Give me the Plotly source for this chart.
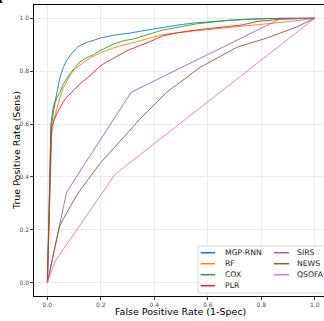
import plotly.graph_objects as go

# ---- data ----
names = ["MGP-RNN", "RF", "COX", "PLR", "SIRS", "NEWS", "QSOFA"]
colors = ["#1f77b4", "#ff7f0e", "#2ca02c", "#d62728", "#9467bd", "#8c564b", "#e377c2"]

mgp_x = [0, 0.004, 0.008, 0.013, 0.022, 0.03, 0.038, 0.047, 0.06, 0.072, 0.085, 0.1, 0.112, 0.122, 0.135,
         0.15, 0.172, 0.2, 0.25, 0.31, 0.37, 0.43, 0.5, 0.55, 0.62, 0.68, 0.75, 0.8, 0.88, 1.0]
mgp_y = [0, 0.22, 0.42, 0.6, 0.664, 0.69, 0.73, 0.775, 0.815, 0.84, 0.86, 0.877, 0.89, 0.897, 0.903,
         0.91, 0.916, 0.926, 0.936, 0.944, 0.955, 0.966, 0.976, 0.982, 0.988, 0.992, 0.996, 0.998, 1.0, 1.0]

rf_x = [0, 0.005, 0.01, 0.016, 0.025, 0.035, 0.047, 0.06, 0.085, 0.1, 0.122, 0.16, 0.2, 0.234, 0.27,
        0.31, 0.347, 0.43, 0.55, 0.68, 0.8, 0.93, 1.0]
rf_y = [0, 0.2, 0.4, 0.56, 0.62, 0.66, 0.70, 0.738, 0.785, 0.805, 0.823, 0.85, 0.87, 0.883, 0.895,
        0.905, 0.915, 0.938, 0.952, 0.965, 0.977, 0.99, 1.0]

cox_x = [0, 0.005, 0.01, 0.016, 0.022, 0.029, 0.036, 0.047, 0.06, 0.072, 0.085, 0.1, 0.122, 0.145, 0.172,
         0.197, 0.209, 0.247, 0.284, 0.32, 0.37, 0.43, 0.5, 0.553, 0.62, 0.678, 0.75, 0.82, 1.0]
cox_y = [0, 0.2, 0.4, 0.6, 0.639, 0.68, 0.70, 0.72, 0.752, 0.772, 0.79, 0.81, 0.835, 0.85, 0.862,
         0.878, 0.883, 0.902, 0.915, 0.921, 0.937, 0.955, 0.968, 0.978, 0.986, 0.992, 0.996, 0.999, 1.0]

plr_x = [0, 0.004, 0.008, 0.012, 0.016, 0.025, 0.035, 0.047, 0.06, 0.072, 0.1, 0.122, 0.15, 0.172, 0.197,
         0.209, 0.247, 0.297, 0.347, 0.372, 0.43, 0.49, 0.553, 0.6, 0.678, 0.73, 0.78, 0.865, 1.0]
plr_y = [0, 0.2, 0.38, 0.5, 0.589, 0.615, 0.639, 0.66, 0.685, 0.701, 0.728, 0.752, 0.775, 0.797, 0.818,
         0.827, 0.849, 0.877, 0.897, 0.906, 0.933, 0.946, 0.955, 0.96, 0.967, 0.975, 0.987, 0.996, 1.0]

sirs_x = [0, 0.072, 0.313, 0.87, 1.0]
sirs_y = [0, 0.343, 0.72, 0.997, 1.0]

news_x = [0, 0.045, 0.085, 0.118, 0.197, 0.259, 0.347, 0.446, 0.571, 0.708, 0.82, 0.93, 1.0]
news_y = [0, 0.213, 0.288, 0.344, 0.451, 0.52, 0.62, 0.72, 0.814, 0.89, 0.925, 0.966, 1.0]

qsofa_x = [0, 0.029, 0.253, 1.0]
qsofa_y = [0, 0.081, 0.41, 1.0]

tick_vals = [0.0, 0.2, 0.4, 0.6, 0.8, 1.0]
tick_text = ["0.0", "0.2", "0.4", "0.6", "0.8", "1.0"]

series = [(mgp_x, mgp_y), (rf_x, rf_y), (cox_x, cox_y), (plr_x, plr_y),
          (sirs_x, sirs_y), (news_x, news_y), (qsofa_x, qsofa_y)]

FONT = "DejaVu Sans"
W, H = 324, 321
ML, MR, MT, MB = 34, 0, 5, 25
PW, PH = W - ML - MR, H - MT - MB

fig = go.Figure()
for name, col, (xs, ys) in zip(names, colors, series):
    fig.add_trace(go.Scatter(x=xs, y=ys, mode="lines", name=name,
                             line=dict(color=col, width=0.9), showlegend=False,
                             hoverinfo="skip"))

def px2paper_x(px):
    return (px - ML) / PW

def px2paper_y(py):
    return (H - MB - py) / PH

shapes = []
annotations = []

# legend box
shapes.append(dict(type="rect", xref="paper", yref="paper",
                   x0=px2paper_x(198), x1=px2paper_x(335),
                   y0=px2paper_y(293), y1=px2paper_y(246),
                   line=dict(color="#d0d0d0", width=0.8), fillcolor="white", layer="above"))

col_line_x = [(200.7, 215.0), (274.0, 289.0)]
col_text_x = [222.5, 295.0]
row_y = [252.7, 263.7, 274.7, 285.7]
for i, (name, col) in enumerate(zip(names, colors)):
    c = 0 if i < 4 else 1
    r = i if i < 4 else i - 4
    y = px2paper_y(row_y[r])
    shapes.append(dict(type="line", xref="paper", yref="paper",
                       x0=px2paper_x(col_line_x[c][0]), x1=px2paper_x(col_line_x[c][1]),
                       y0=y, y1=y, line=dict(color=col, width=1.5), layer="above"))
    annotations.append(dict(xref="paper", yref="paper", x=px2paper_x(col_text_x[c]), y=y,
                            text=name, showarrow=False, xanchor="left", yanchor="middle",
                            font=dict(family=FONT, size=7.7, color="#1a1a1a")))

# axis titles
annotations.append(dict(xref="paper", yref="paper", x=px2paper_x(180.7), y=px2paper_y(311),
                        text="False Positive Rate (1-Spec)", showarrow=False, borderpad=0,
                        xanchor="center", yanchor="middle",
                        font=dict(family=FONT, size=9.5, color="#000000")))
annotations.append(dict(xref="paper", yref="paper", x=px2paper_x(16.5), y=px2paper_y(150.5),
                        text="True Positive Rate (Sens)", showarrow=False, textangle=-90,
                        xanchor="center", yanchor="middle", borderpad=0,
                        font=dict(family=FONT, size=9.5, color="#000000")))
# panel tag (mostly cropped, as in the reference)
annotations.append(dict(xref="paper", yref="paper", x=px2paper_x(5), y=px2paper_y(3.5),
                        text="<b>A</b>", showarrow=False, xanchor="right", yanchor="bottom",
                        yshift=-5, font=dict(family=FONT, size=16, color="#000000")))

axis_common = dict(tickmode="array", tickvals=tick_vals, ticktext=tick_text,
                   showgrid=True, gridcolor="#ebebeb", gridwidth=0.8,
                   zeroline=False, showline=True, linecolor="black", linewidth=1.3,
                   ticks="outside", ticklen=2.5, tickwidth=1, tickcolor="#333333",
                   tickfont=dict(family=FONT, size=6, color="#4d4d4d"))

fig.update_layout(
    width=W, height=H,
    margin=dict(l=ML, r=MR, t=MT, b=MB, pad=0),
    paper_bgcolor="white", plot_bgcolor="white",
    showlegend=False,
    xaxis=dict(range=[-0.05, 1.0344], mirror=True, **axis_common),
    yaxis=dict(range=[-0.05, 1.05], **axis_common),
    shapes=shapes, annotations=annotations,
)

fig.write_html("out.html",
               config={"displayModeBar": False},
               post_script="document.body.style.margin='0';document.body.style.padding='0';"
                           "document.body.style.overflow='hidden';")
